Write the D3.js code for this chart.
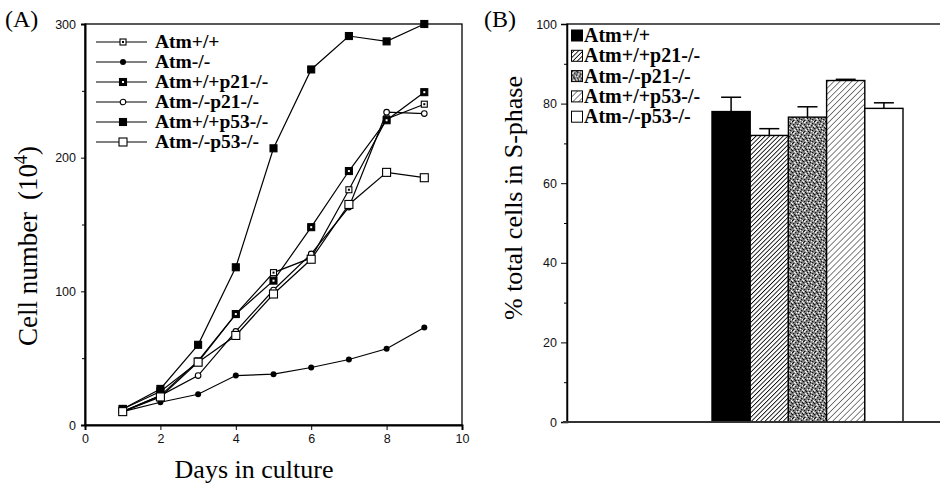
<!DOCTYPE html>
<html>
<head>
<meta charset="utf-8">
<script src="https://cdn.jsdelivr.net/npm/d3@7"></script>
<style>
  body { margin: 0; background: #fff; }
  svg { display: block; }
  .tick text { font-family: "Liberation Sans", Arial, sans-serif; font-size: 12.5px; fill: #111; }
</style>
</head>
<body>
<script>
// ---- data ----
const days = [1, 2, 3, 4, 5, 6, 7, 8, 9];
const seriesNames = ["Atm+/+", "Atm-/-", "Atm+/+p21-/-", "Atm-/-p21-/-", "Atm+/+p53-/-", "Atm-/-p53-/-"];
const atmWT      = [10, 22, 48, 83, 114, 125, 176, 229, 240];
const atmKO      = [10, 17, 23, 37, 38, 43, 49, 57, 73];
const atmWTp21   = [12, 25, 47, 83, 108, 148, 190, 228, 249];
const atmKOp21   = [10, 22, 37, 70, 101, 128, 163, 234, 233];
const atmWTp53   = [12, 27, 60, 118, 207, 266, 291, 287, 300];
const atmKOp53   = [10, 21, 47, 67, 98, 124, 165, 189, 185];
const growthSeries = [atmWT, atmKO, atmWTp21, atmKOp21, atmWTp53, atmKOp53];
const markerKinds  = ["dotSquare", "fillCircle", "fillDotSquare", "openCircle", "fillSquare", "openSquare"];

const barNames  = ["Atm+/+", "Atm+/+p21-/-", "Atm-/-p21-/-", "Atm+/+p53-/-", "Atm-/-p53-/-"];
const sPhase    = [78, 72, 76.6, 85.8, 78.8];
const sPhaseErr = [3.6, 1.7, 2.6, 0.3, 1.4];
const barFills  = ["black", "hatchDense", "stipple", "hatchLight", "white"];

const width = 940, height = 488;
const serif = "'Liberation Serif', 'Times New Roman', serif";

const svg = d3.select("body").append("svg")
    .attr("width", width)
    .attr("height", height);

// ---- patterns ----
const defs = svg.append("defs");
function hatch(id, gap, sw) {
    const p = defs.append("pattern")
        .attr("id", id)
        .attr("patternUnits", "userSpaceOnUse")
        .attr("width", gap).attr("height", gap)
        .attr("patternTransform", "rotate(45)");
    p.append("rect").attr("width", gap).attr("height", gap).attr("fill", "#fff");
    p.append("line").attr("x1", 0).attr("y1", 0).attr("x2", 0).attr("y2", gap)
        .attr("stroke", "#000").attr("stroke-width", sw);
}
hatch("hatchDense", 3.2, 1.7);
hatch("hatchLight", 4.2, 1.0);

// gray speckle tile (fixed pattern of dark / light specks)
const speck = defs.append("pattern")
    .attr("id", "stipple")
    .attr("patternUnits", "userSpaceOnUse")
    .attr("width", 11).attr("height", 11);
speck.append("rect").attr("width", 11).attr("height", 11).attr("fill", "#8c8c8c");
const darkSpecks  = [[0,0],[3,1],[6,0],[9,2],[1,3],[5,3],[8,4],[2,5],[6,6],[10,6],[0,7],[4,8],[7,8],[3,6],[9,9],[1,10],[5,10]];
const lightSpecks = [[2,0],[7,2],[4,4],[0,5],[8,7],[5,7],[1,1],[6,4],[10,0],[3,9],[8,10],[10,4],[2,8]];
darkSpecks.forEach(([x, y]) => speck.append("rect").attr("x", x).attr("y", y).attr("width", 1.3).attr("height", 1.3).attr("fill", "#111"));
lightSpecks.forEach(([x, y]) => speck.append("rect").attr("x", x).attr("y", y).attr("width", 1.3).attr("height", 1.3).attr("fill", "#f2f2f2"));

function fillOf(kind) {
    if (kind === "black") return "#000";
    if (kind === "white") return "#fff";
    return `url(#${kind})`;
}

// ================= Panel A =================
const A = {left: 85, right: 462, top: 24, bottom: 425};
const xA = d3.scaleLinear().domain([0, 10]).range([A.left, A.right]);
const yA = d3.scaleLinear().domain([0, 300]).range([A.bottom, A.top]);

const gA = svg.append("g");

// frame
gA.append("rect")
    .attr("x", A.left).attr("y", A.top)
    .attr("width", A.right - A.left).attr("height", A.bottom - A.top)
    .attr("fill", "none").attr("stroke", "#000").attr("stroke-width", 1.3);

gA.append("g")
    .attr("transform", `translate(0,${A.bottom})`)
    .call(d3.axisBottom(xA).tickValues([0, 2, 4, 6, 8, 10]).tickSize(5).tickPadding(4).tickFormat(d3.format("d")))
    .call(g => g.select(".domain").attr("stroke-width", 2));
gA.append("g")
    .attr("transform", `translate(${A.left},0)`)
    .call(d3.axisLeft(yA).tickValues([0, 100, 200, 300]).tickSize(4).tickPadding(5))
    .call(g => g.select(".domain").attr("stroke-width", 2));
gA.append("g")
    .attr("transform", `translate(${A.left},0)`)
    .call(d3.axisLeft(yA).tickValues([50, 150, 250]).tickSize(3).tickFormat(""))
    .call(g => g.select(".domain").remove());

function drawMarker(g, kind, x, y) {
    const sq = (s, fill) => g.append("rect").attr("x", x - s / 2).attr("y", y - s / 2)
        .attr("width", s).attr("height", s).attr("fill", fill).attr("stroke", "#000").attr("stroke-width", 1.1);
    if (kind === "dotSquare") {
        sq(6, "#fff");
        g.append("rect").attr("x", x - 1).attr("y", y - 1).attr("width", 2).attr("height", 2).attr("fill", "#000");
    } else if (kind === "fillCircle") {
        g.append("circle").attr("cx", x).attr("cy", y).attr("r", 3).attr("fill", "#000");
    } else if (kind === "fillDotSquare") {
        sq(7, "#000");
        g.append("rect").attr("x", x - 1).attr("y", y - 1).attr("width", 2).attr("height", 2).attr("fill", "#fff");
    } else if (kind === "openCircle") {
        g.append("circle").attr("cx", x).attr("cy", y).attr("r", 2.8).attr("fill", "#fff")
            .attr("stroke", "#000").attr("stroke-width", 1.1);
    } else if (kind === "fillSquare") {
        sq(7, "#000");
    } else if (kind === "openSquare") {
        sq(8, "#fff");
    }
}

const line = d3.line().x((d, i) => xA(days[i])).y(d => yA(d));
growthSeries.forEach((vals, s) => {
    gA.append("path").attr("d", line(vals))
        .attr("fill", "none").attr("stroke", "#000").attr("stroke-width", 1.2);
});
growthSeries.forEach((vals, s) => {
    const mg = gA.append("g");
    vals.forEach((v, i) => drawMarker(mg, markerKinds[s], xA(days[i]), yA(v)));
});

// legend A
const legA = gA.append("g").attr("transform", "translate(96,42)");
seriesNames.forEach((name, i) => {
    const row = legA.append("g").attr("transform", `translate(0,${i * 20})`);
    row.append("line").attr("x1", 0).attr("x2", 51).attr("y1", 0).attr("y2", 0)
        .attr("stroke", "#000").attr("stroke-width", 1.2);
    drawMarker(row, markerKinds[i], 27, 0);
    row.append("text").attr("x", 59).attr("y", 6)
        .attr("font-family", serif).attr("font-weight", "bold").attr("font-size", 19.5)
        .text(name);
});

svg.append("text").attr("x", 5).attr("y", 27)
    .attr("font-family", serif).attr("font-size", 24).text("(A)");

const yLabA = svg.append("text")
    .attr("transform", `translate(37,246) rotate(-90)`)
    .attr("text-anchor", "middle")
    .attr("font-family", serif).attr("font-size", 27);
yLabA.append("tspan").text("Cell number");
yLabA.append("tspan").attr("dx", 12).text("(10");
yLabA.append("tspan").attr("dy", -10).attr("font-size", 18).text("4");
yLabA.append("tspan").attr("dy", 10).text(")");

svg.append("text")
    .attr("x", 254).attr("y", 478)
    .attr("text-anchor", "middle")
    .attr("font-family", serif).attr("font-size", 26)
    .text("Days in culture");

// ================= Panel B =================
const B = {left: 567, right: 946, top: 24, bottom: 422, barLeft: 712, barRight: 903};
const yB = d3.scaleLinear().domain([0, 100]).range([B.bottom, B.top]);
const xB = d3.scaleBand().domain(barNames).range([B.barLeft, B.barRight]).padding(0);

const gB = svg.append("g");
gB.append("rect")
    .attr("x", B.left).attr("y", B.top)
    .attr("width", B.right - B.left).attr("height", B.bottom - B.top)
    .attr("fill", "none").attr("stroke", "#000").attr("stroke-width", 1.3);

gB.append("g")
    .attr("transform", `translate(${B.left},0)`)
    .call(d3.axisLeft(yB).tickValues([0, 20, 40, 60, 80, 100]).tickSize(6).tickPadding(4))
    .call(g => g.select(".domain").attr("stroke-width", 1.5));
gB.append("g")
    .attr("transform", `translate(${B.left},0)`)
    .call(d3.axisLeft(yB).tickValues([10, 30, 50, 70, 90]).tickSize(3).tickFormat(""))
    .call(g => g.select(".domain").remove());

// bars
barNames.forEach((name, i) => {
    const x0 = xB(name), bw = xB.bandwidth();
    const top = yB(sPhase[i]), errTop = yB(sPhase[i] + sPhaseErr[i]);
    const cx = x0 + bw / 2;
    gB.append("line").attr("x1", cx).attr("x2", cx).attr("y1", top).attr("y2", errTop)
        .attr("stroke", "#000").attr("stroke-width", 1.5);
    gB.append("line").attr("x1", cx - 10).attr("x2", cx + 10).attr("y1", errTop).attr("y2", errTop)
        .attr("stroke", "#000").attr("stroke-width", 1.5);
    gB.append("rect")
        .attr("x", x0).attr("y", top)
        .attr("width", bw).attr("height", yB(0) - top)
        .attr("fill", fillOf(barFills[i]))
        .attr("stroke", "#000").attr("stroke-width", 1.4);
});

// x axis line of B
gB.append("line").attr("x1", B.left - 4).attr("x2", width).attr("y1", B.bottom).attr("y2", B.bottom)
    .attr("stroke", "#333").attr("stroke-width", 2.2);

// legend B
const legB = gB.append("g").attr("transform", "translate(571,42)");
barNames.forEach((name, i) => {
    const row = legB.append("g").attr("transform", `translate(0,${i * 20.3})`);
    row.append("rect").attr("x", 0.5).attr("y", -12).attr("width", 11).attr("height", 11)
        .attr("fill", fillOf(barFills[i])).attr("stroke", "#000").attr("stroke-width", 1);
    row.append("text").attr("x", 13).attr("y", 0)
        .attr("font-family", serif).attr("font-weight", "bold").attr("font-size", 20)
        .text(name);
});

svg.append("text").attr("x", 484).attr("y", 27)
    .attr("font-family", serif).attr("font-size", 24).text("(B)");

svg.append("text")
    .attr("transform", `translate(522,198) rotate(-90)`)
    .attr("text-anchor", "middle")
    .attr("font-family", serif).attr("font-size", 26)
    .text("% total cells in S-phase");
</script>
</body>
</html>
